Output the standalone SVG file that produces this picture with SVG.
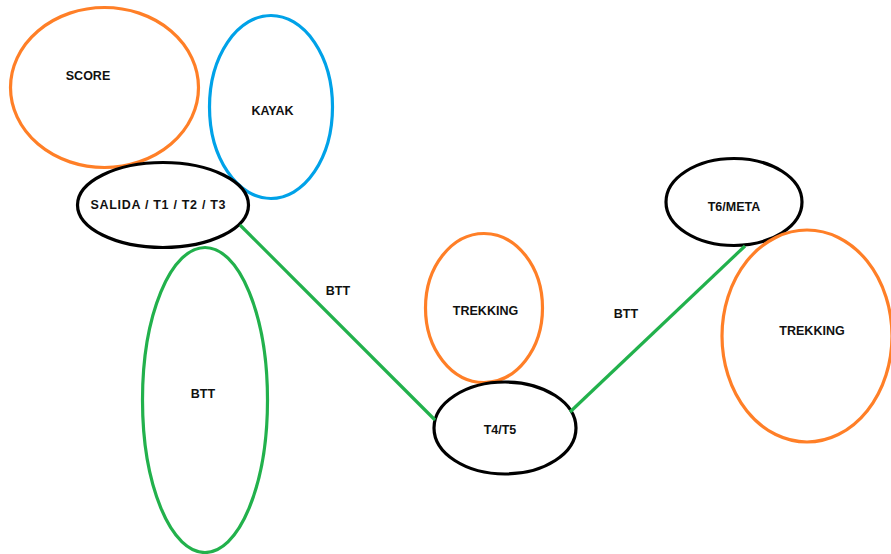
<svg xmlns="http://www.w3.org/2000/svg" width="891" height="554" viewBox="0 0 891 554">
<style>
.n{fill:none;stroke-width:3.2}
.o{stroke:#FF7F27}.b{stroke:#00A2E8}.g{stroke:#22B14C}.k{stroke:#000}
text{font-family:"Liberation Sans",Arial,sans-serif;font-weight:bold;font-size:12.5px;fill:#111;text-anchor:middle}
.c{stroke:#22B14C;stroke-width:3.2;fill:none}
</style>
<rect width="891" height="554" fill="#fff"/>
<g id="score"><ellipse class="n o" cx="104.5" cy="87.5" rx="94" ry="80"/><text x="88" y="80">SCORE</text></g>
<g id="kayak"><ellipse class="n b" cx="271" cy="107" rx="61.5" ry="91.5"/><text x="272.5" y="115">KAYAK</text></g>
<g id="salida"><ellipse class="n k" cx="163" cy="205" rx="85.5" ry="42.5"/><text x="158" y="209" textLength="135" lengthAdjust="spacing">SALIDA / T1 / T2 / T3</text></g>
<g id="btt-loop"><ellipse class="n g" cx="205" cy="400" rx="62.5" ry="152.5"/><text x="203" y="398">BTT</text></g>
<g id="trekking1"><ellipse class="n o" cx="484" cy="308" rx="58.5" ry="74.5"/><text x="485.5" y="315">TREKKING</text></g>
<g id="t4t5"><ellipse class="n k" cx="505" cy="428" rx="71" ry="46"/><text x="500" y="434">T4/T5</text></g>
<g id="t6meta"><ellipse class="n k" cx="734" cy="202" rx="68" ry="43.5"/><text x="734" y="211">T6/META</text></g>
<g id="trekking2"><ellipse class="n o" cx="807" cy="336" rx="85" ry="106"/><text x="812" y="335">TREKKING</text></g>
<g id="connectors">
<line class="c" x1="240" y1="225" x2="435" y2="420"/>
<line class="c" x1="570" y1="412" x2="745" y2="246"/>
<text x="338" y="295">BTT</text>
<text x="626" y="318">BTT</text>
</g>
</svg>
